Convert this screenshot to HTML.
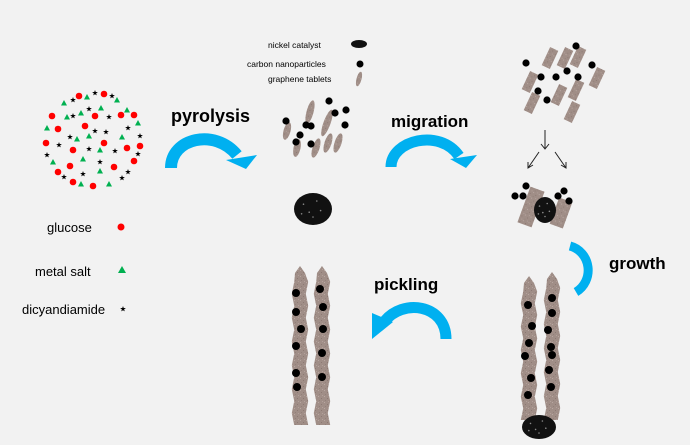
<!DOCTYPE html>
<html><head><meta charset="utf-8"><style>
html,body{margin:0;padding:0;background:#f2f2f2;}
svg{display:block;}
text{font-family:"Liberation Sans",Arial,sans-serif;}
</style></head><body>
<svg id="s" width="690" height="445" viewBox="0 0 690 445" xmlns="http://www.w3.org/2000/svg">
<rect width="690" height="445" fill="#f2f2f2"/>
<defs>
<pattern id="tex" width="6" height="6" patternUnits="userSpaceOnUse">
<rect width="6" height="6" fill="#a08e87"/><rect x="0" y="0" width="1" height="1" fill="#b8a7a1"/><rect x="3" y="2" width="1" height="1" fill="#8c7973"/><rect x="4" y="5" width="1" height="1" fill="#b3a19b"/><rect x="1" y="4" width="1" height="1" fill="#92807a"/>
</pattern>
</defs>
<g id="g"></g>
<text x="47" y="232" font-size="13">glucose</text>
<circle cx="121" cy="227" r="3.5" fill="#ff0000"/>
<text x="35" y="276" font-size="13">metal salt</text>
<polygon points="122,266 126,273 118,273" fill="#00b050"/>
<text x="22" y="314" font-size="13">dicyandiamide</text>
<text x="268" y="48" font-size="8.5">nickel catalyst</text>
<ellipse cx="359" cy="44" rx="8" ry="4" fill="#111"/>
<text x="247" y="67" font-size="8.5">carbon nanoparticles</text>
<circle cx="360" cy="64" r="3.5" fill="#000"/>
<text x="268" y="82" font-size="8.5">graphene tablets</text>
<text x="171" y="122" font-size="18" font-weight="bold">pyrolysis</text>
<text x="391" y="127" font-size="17" font-weight="bold">migration</text>
<text x="609" y="269" font-size="17" font-weight="bold">growth</text>
<text x="374" y="290" font-size="17" font-weight="bold">pickling</text>
<path d="M171,168 C171,138 215,128 237,155" fill="none" stroke="#00b0f0" stroke-width="12"/>
<polygon points="226,160 257,155 246,169" fill="#00b0f0"/>
<path d="M391,167 C391,140 440,128 459,156" fill="none" stroke="#00b0f0" stroke-width="11"/>
<polygon points="450,159 477,155 466,168" fill="#00b0f0"/>
<path d="M446,339 C446,304 402,298 384,322" fill="none" stroke="#00b0f0" stroke-width="11"/>
<polygon points="372,313 393,322 372,339" fill="#00b0f0"/>
<path d="M570,246 A24,25 0 0 1 576,292" fill="none" stroke="#00b0f0" stroke-width="9"/>
<g stroke="#222" stroke-width="1" fill="none">
<path d="M545,130 V149 M541,144 L545,149 L549,144"/>
<path d="M539,152 L528,168 M528,162 L528,168 L533,165"/>
<path d="M555,152 L566,168 M566,162 L566,168 L561,165"/>
</g>
</svg>
<script>
var g=document.getElementById('g'),NS="http://www.w3.org/2000/svg";
function el(t,a){var e=document.createElementNS(NS,t);for(var k in a)e.setAttribute(k,a[k]);g.appendChild(e);return e;}
var red=[[79,96],[104,94],[52,116],[95,116],[121,115],[134,115],[58,129],[85,126],[46,143],[104,143],[140,146],[73,150],[127,148],[134,161],[70,166],[114,167],[58,172],[73,182],[93,186]];
red.forEach(function(p){el('circle',{cx:p[0],cy:p[1],r:3.3,fill:'#ff0000'});});
var tri=[[64,103],[87,97],[117,100],[81,113],[67,117],[101,108],[127,110],[138,123],[47,128],[89,136],[77,139],[122,137],[100,150],[83,159],[53,162],[100,171],[81,184],[109,184]];
tri.forEach(function(p){el('polygon',{points:(p[0])+','+(p[1]-3)+' '+(p[0]+3)+','+(p[1]+2.5)+' '+(p[0]-3)+','+(p[1]+2.5),fill:'#00b050'});});
function star(x,y,r){var s='';for(var i=0;i<10;i++){var a=-Math.PI/2+i*Math.PI/5,rr=i%2?r*0.4:r;s+=(x+rr*Math.cos(a)).toFixed(1)+','+(y+rr*Math.sin(a)).toFixed(1)+' ';}el('polygon',{points:s,fill:'#000'});}
var st=[[73,100],[95,93],[112,96],[89,109],[73,116],[109,117],[95,131],[106,132],[128,128],[70,137],[140,136],[59,145],[89,149],[115,151],[47,155],[138,154],[100,162],[83,174],[128,172],[64,177],[122,178]];
st.forEach(function(p){star(p[0],p[1],3);});
star(123,309,3);
function tab(x,y,l,w,a){el('ellipse',{cx:x,cy:y,rx:w/2,ry:l/2,fill:'url(#tex)',transform:'rotate('+a+' '+x+' '+y+')'});}
function dot(x,y,r){el('circle',{cx:x,cy:y,r:r||3.6,fill:'#000'});}
function specks(cx,cy,rx,ry){var pts=[[-0.5,-0.3],[0.2,-0.5],[-0.2,0.2],[0.4,0.1],[0,0.5],[-0.6,0.3]];pts.forEach(function(p){el('circle',{cx:cx+p[0]*rx,cy:cy+p[1]*ry,r:0.8,fill:'#888'});});}
tab(359,79,15,5,15);
tab(287,131,18,7,15);tab(310,112,24,7,15);tab(327,123,28,7,20);tab(297,148,18,7,12);tab(316,148,20,7,18);tab(328,143,20,7,18);tab(338,143,20,7,18);
[[329,101],[335,113],[346,110],[286,121],[345,125],[306,125],[311,126],[300,135],[296,142],[311,144]].forEach(function(p){dot(p[0],p[1]);});
el('ellipse',{cx:313,cy:209,rx:19,ry:16,fill:'#111'});specks(313,209,19,16);
function rt(x,y,w,h,a){el('rect',{x:x-w/2,y:y-h/2,width:w,height:h,fill:'url(#tex)',transform:'rotate('+a+' '+x+' '+y+')'});}
[[550,58],[565,58],[578,57],[530,82],[597,78],[532,103],[559,95],[576,90],[572,112]].forEach(function(p){rt(p[0],p[1],9,20,25);});
[[576,46],[526,63],[592,65],[567,71],[541,77],[556,77],[578,77],[538,91],[547,100]].forEach(function(p){dot(p[0],p[1]);});
rt(531,207,15,38,20);rt(561,213,14,28,20);
el('ellipse',{cx:545,cy:210,rx:11,ry:13,fill:'#111'});specks(545,210,11,13);
[[526,186],[515,196],[523,196],[558,196],[564,191],[569,201]].forEach(function(p){dot(p[0],p[1]);});
function tube(cx,y0,y1){var n=Math.round((y1-y0)/12);var L=[],R=[];for(var i=0;i<=n;i++){var y=y0+(y1-y0)*i/n;var o=(i%2?1.2:-1.2);L.push((cx-7+o)+','+y);R.unshift((cx+7+o)+','+y);}
L[0]=(cx-5)+','+(y0+3);R[R.length-1]=(cx+5)+','+(y0+3);var s=cx+','+(y0-4)+' '+L.join(' ')+' '+R.join(' ');el('polygon',{points:s,fill:'url(#tex)'});}
tube(300,270,425);tube(322,270,425);
[[296,293],[296,312],[301,329],[296,346],[296,373],[297,387]].forEach(function(p){dot(p[0],p[1],4);});
[[320,289],[323,307],[323,329],[322,353],[322,377]].forEach(function(p){dot(p[0],p[1],4);});
tube(529,280,420);tube(552,276,420);
[[528,305],[532,326],[529,343],[525,356],[531,378],[528,395]].forEach(function(p){dot(p[0],p[1],4);});
[[552,298],[552,313],[548,330],[551,347],[552,355],[549,370],[551,387]].forEach(function(p){dot(p[0],p[1],4);});
el('ellipse',{cx:539,cy:427,rx:17,ry:12,fill:'#111'});specks(539,427,17,12);
</script>
</body></html>
